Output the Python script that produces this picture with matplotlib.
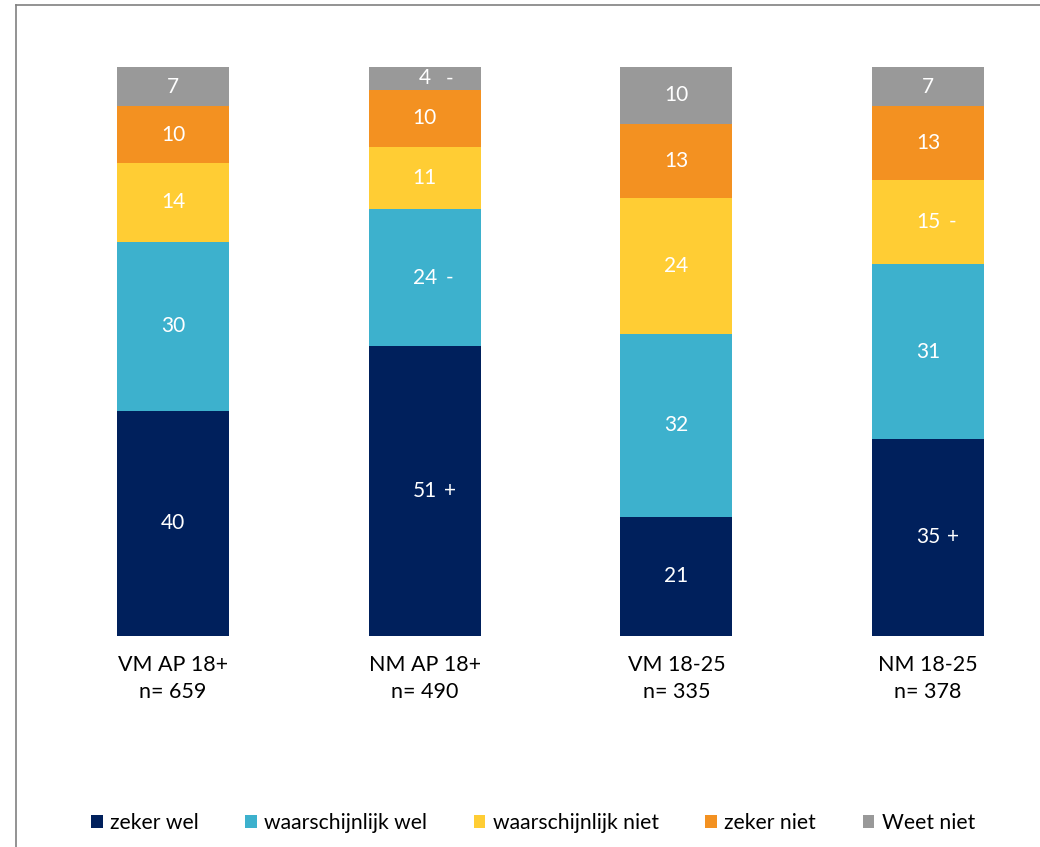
import matplotlib
matplotlib.use("Agg")
import matplotlib.pyplot as plt
from matplotlib.patches import Patch
from matplotlib.lines import Line2D
import numpy as np

plt.rcParams['font.family'] = ['Lato', 'DejaVu Sans']

categories = ["VM AP 18+\nn= 659", "NM AP 18+\nn= 490", "VM 18-25\nn= 335", "NM 18-25\nn= 378"]
series_names = ["zeker wel", "waarschijnlijk wel", "waarschijnlijk niet", "zeker niet", "Weet niet"]
zeker_wel = [40, 51, 21, 35]
waarschijnlijk_wel = [30, 24, 32, 31]
waarschijnlijk_niet = [14, 11, 24, 15]
zeker_niet = [10, 10, 13, 13]
weet_niet = [7, 4, 10, 7]
suffix_zeker_wel = ["", "+", "", "+"]
suffix_waarschijnlijk_wel = ["", "-", "", ""]
suffix_waarschijnlijk_niet = ["", "", "", "-"]
suffix_zeker_niet = ["", "", "", ""]
suffix_weet_niet = ["", "-", "", ""]

colors = ["#00205C", "#3DB1CD", "#FFCD34", "#F39121", "#999999"]

series = [zeker_wel, waarschijnlijk_wel, waarschijnlijk_niet, zeker_niet, weet_niet]
suffixes = [suffix_zeker_wel, suffix_waarschijnlijk_wel, suffix_waarschijnlijk_niet,
            suffix_zeker_niet, suffix_weet_niet]

W, H = 1040, 847
fig = plt.figure(figsize=(W / 100, H / 100), dpi=100)
ax_left_px, ax_right_px = 30, 1030
ax = fig.add_axes([ax_left_px / W, (H - 636) / H, (ax_right_px - ax_left_px) / W, (636 - 67) / H])

x = np.arange(len(categories))
step_px = (928 - 173) / 3
ax.set_xlim(-(173 - ax_left_px) / step_px, 3 + (ax_right_px - 928) / step_px)
ax.set_ylim(0, 1)

data = np.array(series, dtype=float)
totals = data.sum(axis=0)
shares = data / totals
bottom = np.zeros(len(categories))
bar_w = 112 / step_px
for vals, sh, col, sfx in zip(series, shares, colors, suffixes):
    ax.bar(x, sh, bottom=bottom, width=bar_w, color=col, edgecolor="none")
    for i in range(len(categories)):
        yc = bottom[i] + sh[i] / 2
        ax.text(x[i], yc, str(vals[i]), ha="center", va="center", color="white", fontsize=15)
        if sfx[i]:
            ax.annotate(sfx[i], (x[i], yc), xytext=(18, 0), textcoords="offset points",
                        ha="center", va="center", color="white", fontsize=15)
    bottom += sh

ax.set_xticks(x)
ax.set_xticklabels(categories, fontsize=15.5, linespacing=1.4)
ax.tick_params(axis="x", length=0, pad=14)
ax.set_yticks([])
for s in ax.spines.values():
    s.set_visible(False)

# outer frame lines (top and left)
fig.add_artist(Line2D([16 / W, 1], [1 - 5 / H, 1 - 5 / H], color="#808080", lw=1.2, transform=fig.transFigure))
fig.add_artist(Line2D([16 / W, 16 / W], [0, 1 - 5 / H], color="#808080", lw=1.2, transform=fig.transFigure))

handles = [Patch(facecolor=c, edgecolor="none") for c in colors]
fig.legend(handles, series_names, loc="center", bbox_to_anchor=(533 / W, 1 - 823 / H), ncol=5,
           frameon=False, fontsize=15.2, handlelength=0.55, handleheight=0.55,
           handletextpad=0.35, columnspacing=2.2, borderaxespad=0)

fig.savefig("out.png", dpi=100)
